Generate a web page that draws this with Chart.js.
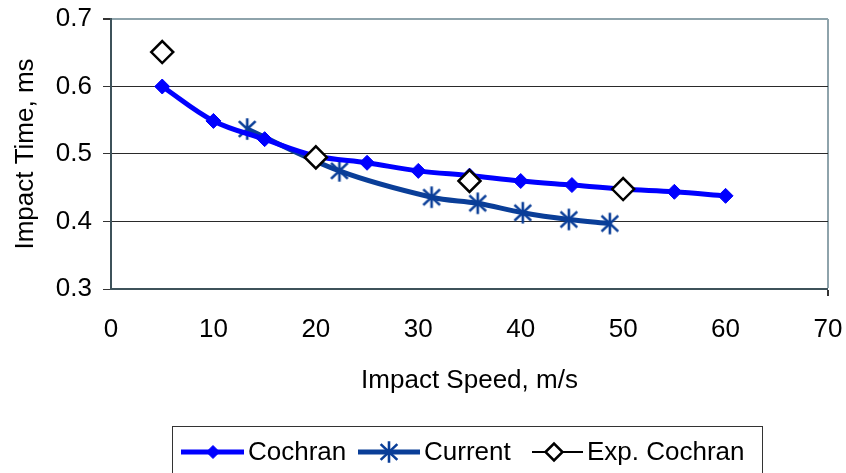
<!DOCTYPE html>
<html>
<head>
<meta charset="utf-8">
<script src="https://cdn.jsdelivr.net/npm/chart.js@4.4.1/dist/chart.umd.min.js"></script>
<style>
  html, body { margin: 0; padding: 0; background: #fff; }
  #wrap { width: 846px; height: 473px; position: relative; }
</style>
</head>
<body>
<div id="wrap"><canvas id="c" width="846" height="473"></canvas></div>
<script>
// ── Data ───────────────────────────────────────────────
const cochranSpeed = [5, 10, 15, 20, 25, 30, 35, 40, 45, 50, 55, 60];
const cochranTime  = [0.600, 0.549, 0.522, 0.497, 0.487, 0.475, 0.468, 0.460, 0.454, 0.448, 0.444, 0.438];

const currentSpeed = [13.3, 22.3, 31.3, 35.8, 40.2, 44.7, 48.7];
const currentTime  = [0.537, 0.475, 0.436, 0.427, 0.413, 0.403, 0.397];

const expSpeed = [5, 20, 35, 50];
const expTime  = [0.651, 0.495, 0.460, 0.448];

const xTicks = [0, 10, 20, 30, 40, 50, 60, 70];
const yTicks = [0.3, 0.4, 0.5, 0.6, 0.7];

const seriesLabels = ['Cochran', 'Current', 'Exp. Cochran'];

// ── Styles ─────────────────────────────────────────────
const FONT       = "'Liberation Sans', Arial, sans-serif";
const BLUE       = '#0000ff';
const DARK_BLUE  = '#0a3e98';
const AXIS_DARK  = '#3e525a';
const FRAME_LITE = '#8ea3ab';
const GRID       = '#2a2a2a';

// 6-spoke asterisk marker (Excel style)
function _asterisk(size, color, lw) {
  const cv = document.createElement('canvas');
  cv.width = size; cv.height = size;
  const g = cv.getContext('2d');
  const c = size / 2, r = size / 2 - lw / 2;
  g.strokeStyle = color;
  g.lineWidth = lw;
  g.lineCap = 'butt';
  g.beginPath();
  g.moveTo(c, c - r); g.lineTo(c, c + r);
  const d = r * 0.78;
  g.moveTo(c - d, c - d * 0.95); g.lineTo(c + d, c + d * 0.95);
  g.moveTo(c + d, c - d * 0.95); g.lineTo(c - d, c + d * 0.95);
  g.stroke();
  return cv;
}
const starImg = _asterisk(24, DARK_BLUE, 2.6);

const toPts = (xs, ys) => xs.map((x, i) => ({ x, y: ys[i] }));

// kill Chart.js' label-overflow padding so layout.padding alone places the plot area
const _noPad = s => { s.paddingTop = 0; s.paddingBottom = 0; s.paddingLeft = 0; s.paddingRight = 0; };

// ── Legend plugin (line + marker, boxed) ───────────────
const legendItems = [
  { x0: 181, x1: 244, mx: 213, tx: 248 },
  { x0: 358, x1: 420, mx: 389, tx: 424 },
  { x0: 532, x1: 583, mx: 554, tx: 587 },
];
const _legendPlugin = {
  id: 'boxLegend',
  afterDraw(chart) {
    const { ctx } = chart;
    const ly = 452;
    ctx.save();
    ctx.strokeStyle = '#333';
    ctx.lineWidth = 1;
    ctx.strokeRect(172.5, 426.5, 590, 60);
    chart.data.datasets.forEach((ds, i) => {
      const it = legendItems[i];
      ctx.beginPath();
      ctx.moveTo(it.x0, ly);
      ctx.lineTo(it.x1, ly);
      ctx.strokeStyle = ds.legendLineColor;
      ctx.lineWidth = ds.legendLineWidth;
      ctx.stroke();
      ctx.fillStyle   = ds.pointBackgroundColor || '#000';
      ctx.strokeStyle = ds.pointBorderColor || '#000';
      ctx.lineWidth   = ds.pointBorderWidth || 0;
      Chart.helpers.drawPoint(ctx, {
        pointStyle: ds.pointStyle,
        radius: ds.legendRadius,
        rotation: 0,
        borderWidth: ds.pointBorderWidth,
      }, it.mx, ly);
      ctx.fillStyle = '#000';
      ctx.font = `26px ${FONT}`;
      ctx.textBaseline = 'middle';
      ctx.fillText(ds.label, it.tx, ly + 1);
    });
    ctx.restore();
  },
};

// ── Chart ──────────────────────────────────────────────
const chart = new Chart(document.getElementById('c'), {
  type: 'line',
  data: {
    datasets: [
      {
        label: seriesLabels[0],
        data: toPts(cochranSpeed, cochranTime),
        borderColor: BLUE,
        borderWidth: 5,
        tension: 0.35,
        pointStyle: 'rectRot',
        pointRadius: 7.5,
        pointBackgroundColor: BLUE,
        pointBorderColor: BLUE,
        pointBorderWidth: 1,
        legendLineColor: BLUE,
        legendLineWidth: 5,
        legendRadius: 6.5,
        order: 1,
      },
      {
        label: seriesLabels[1],
        data: toPts(currentSpeed, currentTime),
        borderColor: DARK_BLUE,
        borderWidth: 5,
        tension: 0.35,
        pointStyle: starImg,
        pointRadius: 12,
        pointBorderWidth: 0,
        legendLineColor: DARK_BLUE,
        legendLineWidth: 5,
        legendRadius: 12,
        order: 2,
      },
      {
        label: seriesLabels[2],
        data: toPts(expSpeed, expTime),
        showLine: false,
        borderColor: '#000',
        pointStyle: 'rectRot',
        pointRadius: 11,
        pointBackgroundColor: '#fff',
        pointBorderColor: '#000',
        pointBorderWidth: 2.5,
        legendLineColor: '#000',
        legendLineWidth: 2,
        legendRadius: 8.5,
        order: 0,
      },
    ],
  },
  options: {
    animation: false,
    responsive: false,
    layout: { padding: { top: 19, right: 18, bottom: 75, left: 0 } },
    scales: {
      x: {
        type: 'linear',
        min: 0, max: 70,
        afterBuildTicks: s => { s.ticks = xTicks.map(v => ({ value: v })); },
        afterFit: s => { s.height = 109; _noPad(s); },
        border: { color: AXIS_DARK, width: 2 },
        grid: {
          drawOnChartArea: true,
          color: c => c.tick && c.tick.value === 70 ? FRAME_LITE : 'rgba(0,0,0,0)',
          lineWidth: c => c.tick && c.tick.value === 70 ? 2 : 0,
          tickColor: '#333',
          tickLength: 7,
        },
        ticks: { color: '#000', font: { family: FONT, size: 26 }, padding: 18, maxRotation: 0 },
        title: {
          display: true, text: 'Impact Speed, m/s',
          color: '#000', font: { family: FONT, size: 26 },
          padding: { top: 0, bottom: 2 },
        },
      },
      y: {
        type: 'linear',
        min: 0.3, max: 0.7,
        afterBuildTicks: s => { s.ticks = yTicks.map(v => ({ value: v })); },
        afterFit: s => { s.width = 111; _noPad(s); },
        border: { color: AXIS_DARK, width: 2 },
        grid: {
          color: c => c.tick && Math.abs(c.tick.value - 0.7) < 1e-9 ? FRAME_LITE : GRID,
          lineWidth: c => c.tick && Math.abs(c.tick.value - 0.7) < 1e-9 ? 2 : 1,
          tickColor: '#333',
          tickLength: 8,
        },
        ticks: {
          color: '#000', font: { family: FONT, size: 26 }, padding: 11,
          callback: v => v.toFixed(1),
        },
        title: {
          display: true, text: 'Impact Time, ms',
          color: '#000', font: { family: FONT, size: 26 },
          padding: { top: 10, bottom: 0 },
        },
      },
    },
    plugins: {
      legend: { display: false },
      tooltip: { enabled: false },
    },
  },
  plugins: [_legendPlugin],
});
</script>
</body>
</html>
